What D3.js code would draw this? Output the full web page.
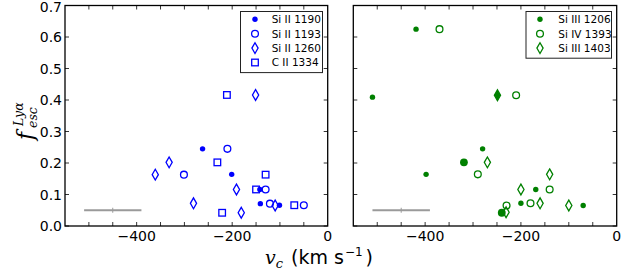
<!DOCTYPE html>
<html><head><meta charset="utf-8">
<script src="https://cdn.jsdelivr.net/npm/d3@7"></script>
<style>html,body{margin:0;padding:0;background:#fff;}svg{display:block;}</style>
</head><body>
<svg id="chart" width="622" height="277"></svg>
<script>
// ---- data ----
const siII1190 = [[-262,0.245],[-201,0.164],[-142,0.116],[-141,0.071],[-101,0.066]];
const siII1193 = [[-301,0.163],[-210,0.245],[-130,0.116],[-121,0.071],[-50,0.066]];
const siII1260 = [[-361,0.163],[-332,0.202],[-281,0.072],[-191,0.116],[-181,0.042],[-151,0.416],[-110,0.065]];
const cII1334  = [[-231,0.202],[-221,0.042],[-211,0.416],[-150,0.116],[-130,0.163],[-70,0.066]];

const siIII1206      = [[-419,0.625],[-510,0.409],[-398,0.164],[-280,0.245],[-200,0.072],[-169,0.116],[-70,0.065]];
const siIII1206Large = [[-319,0.202],[-240,0.042]];
const siIV1393       = [[-370,0.625],[-210,0.415],[-290,0.164],[-230,0.065],[-180,0.072],[-140,0.116]];
const siIII1403      = [[-270,0.202],[-231,0.0435],[-200,0.116],[-160,0.072],[-140,0.164],[-100,0.065]];
const siIII1403Filled= [[-249,0.415]];

const errCenter = [-450, 0.05];
const errHalf = 60;

const xDomain = [-550, 0];
const yDomain = [0, 0.7];
const xTickVals = [-500,-450,-400,-350,-300,-250,-200,-150,-100,-50];
const xTickLabels = [-400,-200,0];
const yTickVals = [0,0.1,0.2,0.3,0.4,0.5,0.6,0.7];

const leftLegend = ["Si II 1190","Si II 1193","Si II 1260","C II 1334"];
const rightLegend = ["Si III 1206","Si IV 1393","Si III 1403"];

// ---- drawing ----
const svg = d3.select("#chart");
const BLUE = "#0000ff", GREEN = "#008000";
const yTop = 5.5, yBot = 226;
const y = d3.scaleLinear().domain(yDomain).range([yBot, yTop]);
const panels = [
  {x0:65, x1:327.7},
  {x0:353.3, x1:616.7}
];
const fmtMinus = v => (v<0 ? "\u2212" + Math.abs(v) : String(v));

function marker(g, type, cx, cy, color) {
  const sw = 1.3;
  if (type === "dot") {
    g.append("circle").attr("cx",cx).attr("cy",cy).attr("r",2.7).attr("fill",color);
  } else if (type === "bigdot") {
    g.append("circle").attr("cx",cx).attr("cy",cy).attr("r",3.9).attr("fill",color);
  } else if (type === "circle") {
    g.append("circle").attr("cx",cx).attr("cy",cy).attr("r",3.4).attr("fill","none").attr("stroke",color).attr("stroke-width",sw);
  } else if (type === "diamond" || type === "fdiamond") {
    const hw = 3.1, hh = 5.4;
    g.append("path").attr("d",`M${cx},${cy-hh}L${cx+hw},${cy}L${cx},${cy+hh}L${cx-hw},${cy}Z`)
      .attr("fill", type==="fdiamond"?color:"none").attr("stroke",color).attr("stroke-width",sw);
  } else if (type === "square") {
    const s = 3.3;
    g.append("rect").attr("x",cx-s).attr("y",cy-s).attr("width",2*s).attr("height",2*s)
      .attr("fill","none").attr("stroke",color).attr("stroke-width",sw);
  }
}

panels.forEach((p, i) => {
  p.x = d3.scaleLinear().domain(xDomain).range([p.x0, p.x1]);
  const g = svg.append("g");
  // error bar
  const ex = p.x(errCenter[0]), ey = y(errCenter[1]);
  g.append("line").attr("x1",p.x(errCenter[0]-errHalf)).attr("x2",p.x(errCenter[0]+errHalf))
    .attr("y1",ey).attr("y2",ey).attr("stroke","#9a9a9a").attr("stroke-width",1.8);
  g.append("line").attr("x1",ex).attr("x2",ex).attr("y1",ey-2.5).attr("y2",ey+2.5)
    .attr("stroke","#9a9a9a").attr("stroke-width",1);
  // ticks
  xTickVals.forEach(v => {
    const xx = p.x(v);
    g.append("line").attr("x1",xx).attr("x2",xx).attr("y1",yBot).attr("y2",yBot-4).attr("stroke","#000").attr("stroke-width",0.8);
    g.append("line").attr("x1",xx).attr("x2",xx).attr("y1",yTop).attr("y2",yTop+4).attr("stroke","#000").attr("stroke-width",0.8);
  });
  yTickVals.forEach(v => {
    const yy = y(v);
    g.append("line").attr("x1",p.x0).attr("x2",p.x0+4).attr("y1",yy).attr("y2",yy).attr("stroke","#000").attr("stroke-width",0.8);
    g.append("line").attr("x1",p.x1).attr("x2",p.x1-4).attr("y1",yy).attr("y2",yy).attr("stroke","#000").attr("stroke-width",0.8);
  });
  xTickLabels.forEach(v => {
    g.append("text").attr("x",p.x(v)).attr("y",241).attr("text-anchor","middle")
      .attr("font-family","DejaVu Sans").attr("font-size",14).text(fmtMinus(v));
  });
  if (i === 0) {
    yTickVals.forEach(v => {
      g.append("text").attr("x",62).attr("y",Math.max(y(v)+5, 12)).attr("text-anchor","end")
        .attr("font-family","DejaVu Sans").attr("font-size",14).text(v.toFixed(1));
    });
  }
  p.g = g;
});

const L = panels[0], R = panels[1];
const plotSeries = (p, data, type, color) => data.forEach(d => marker(p.g, type, p.x(d[0]), y(d[1]), color));
plotSeries(L, siII1190, "dot", BLUE);
plotSeries(L, siII1193, "circle", BLUE);
plotSeries(L, siII1260, "diamond", BLUE);
plotSeries(L, cII1334, "square", BLUE);

plotSeries(R, siIII1206, "dot", GREEN);
plotSeries(R, siIII1206Large, "bigdot", GREEN);
plotSeries(R, siIV1393, "circle", GREEN);
plotSeries(R, siIII1403, "diamond", GREEN);
plotSeries(R, siIII1403Filled, "fdiamond", GREEN);

// frames
panels.forEach(p => {
  svg.append("rect").attr("x",p.x0).attr("y",yTop).attr("width",p.x1-p.x0).attr("height",yBot-yTop)
    .attr("fill","none").attr("stroke","#000").attr("stroke-width",1.3);
});

// legends
function legend(bx, by, bw, labels, types, color, mx, tx) {
  const g = svg.append("g");
  const rowH = 14.4;
  g.append("rect").attr("x",bx).attr("y",by).attr("width",bw).attr("height",labels.length*rowH+3.5)
    .attr("fill","#fff").attr("stroke","#222").attr("stroke-width",1);
  labels.forEach((lab, k) => {
    const cy = 19.3 + k*rowH;
    marker(g, types[k], mx, cy, color);
    g.append("text").attr("x",tx).attr("y",cy+3.8).attr("font-family","DejaVu Sans").attr("font-size",10.5).text(lab);
  });
}
legend(240.5, 11.5, 82, leftLegend, ["dot","circle","diamond","square"], BLUE, 255, 271.7);
legend(526, 11.5, 85.5, rightLegend, ["dot","circle","diamond"], GREEN, 540, 558.3);

// x label
const xl = svg.append("text").attr("x",265).attr("y",264).attr("font-family","DejaVu Sans").attr("font-size",19);
xl.append("tspan").attr("font-family","DejaVu Serif").attr("font-style","italic").text("v");
xl.append("tspan").attr("font-family","DejaVu Serif").attr("font-style","italic").attr("font-size",13).attr("dy",4).text("c");
xl.append("tspan").attr("dy",-4).attr("dx",8).text("(km s");
xl.append("tspan").attr("font-size",12).attr("dy",-8).attr("dx",1).text("\u22121");
xl.append("tspan").attr("dy",8).attr("dx",3).text(")");

// y label
const yg = svg.append("g").attr("transform","translate(33,140) rotate(-90)");
yg.append("text").attr("x",0).attr("y",0).attr("font-family","DejaVu Serif").attr("font-style","italic").attr("font-size",22).text("f");
yg.append("text").attr("x",14).attr("y",-10).attr("font-family","DejaVu Serif").attr("font-style","italic").attr("font-size",12.5).text("Ly\u03b1");
yg.append("text").attr("x",12).attr("y",4).attr("font-family","DejaVu Serif").attr("font-style","italic").attr("font-size",12.5).text("esc");
</script>
</body></html>
